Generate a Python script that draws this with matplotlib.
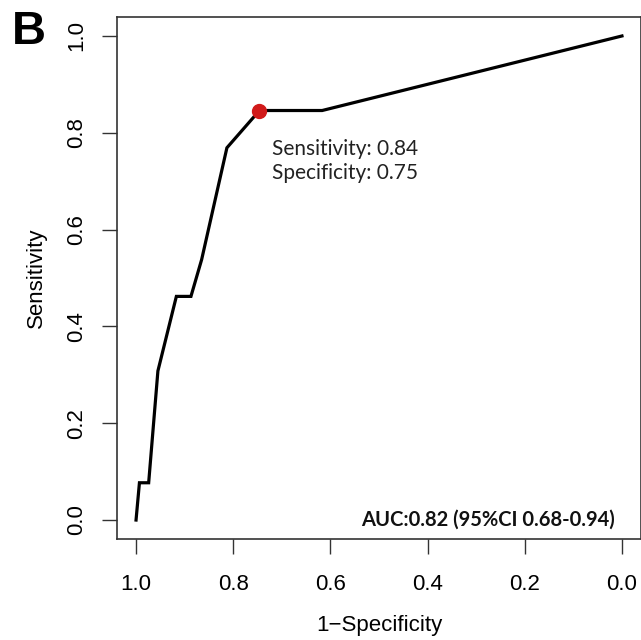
import matplotlib
matplotlib.use("Agg")
import matplotlib.pyplot as plt

specificity = [1.0, 0.993, 0.974, 0.955, 0.917, 0.887, 0.865, 0.813, 0.746, 0.617, 0.0]
sensitivity = [0.0, 0.077, 0.077, 0.308, 0.462, 0.462, 0.538, 0.769, 0.846, 0.846, 1.0]
best_spec = 0.746
best_sens = 0.846
ticks = [1.0, 0.8, 0.6, 0.4, 0.2, 0.0]
tick_labels = ["1.0", "0.8", "0.6", "0.4", "0.2", "0.0"]
annot_text = "Sensitivity: 0.84\nSpecificity: 0.75"
auc_text = "AUC:0.82 (95%CI 0.68-0.94)"

plt.rcParams['font.family'] = ['Liberation Sans', 'DejaVu Sans']

fig = plt.figure(figsize=(6.41, 6.40), dpi=100)
ax = fig.add_axes([116.6/641, 1 - 539.4/640, (641.4 - 116.6)/641, (539.4 - 16.6)/640])

ax.plot(specificity, sensitivity, color='black', lw=2.3, solid_joinstyle='miter')
ax.plot([best_spec], [best_sens], 'o', color='#d11a1a', markersize=10, zorder=3)

ax.set_xlim(1.04, -0.04)
ax.set_ylim(-0.04, 1.04)
ax.set_xticks(ticks)
ax.set_xticklabels(tick_labels)
ax.set_yticks(ticks)
ax.set_yticklabels(tick_labels, rotation=90, va='center')
ax.tick_params(axis='both', direction='out', length=11, width=1.0, labelsize=16, color='#333333')
ax.tick_params(axis='x', pad=14)
ax.tick_params(axis='y', pad=10)
for sp in ax.spines.values():
    sp.set_linewidth(1.2)
    sp.set_color('#333333')

ax.set_xlabel("1\u2212Specificity", fontsize=16, labelpad=14)
ax.set_ylabel("Sensitivity", fontsize=16, labelpad=14)

ax.text(0.72, 0.787, annot_text, fontsize=15, family=['Lato', 'DejaVu Sans'],
        color='#222222', va='top', ha='left', linespacing=1.25)
ax.text(0.015, 0.0, auc_text, fontsize=14.5, fontweight='bold', family=['Lato', 'DejaVu Sans'],
        color='#111111', ha='right', va='center')

fig.text(12/641, 1 - 44.5/640, "B", fontsize=34, fontweight='bold', ha='left', va='baseline')

fig.savefig("out.png", dpi=100)
